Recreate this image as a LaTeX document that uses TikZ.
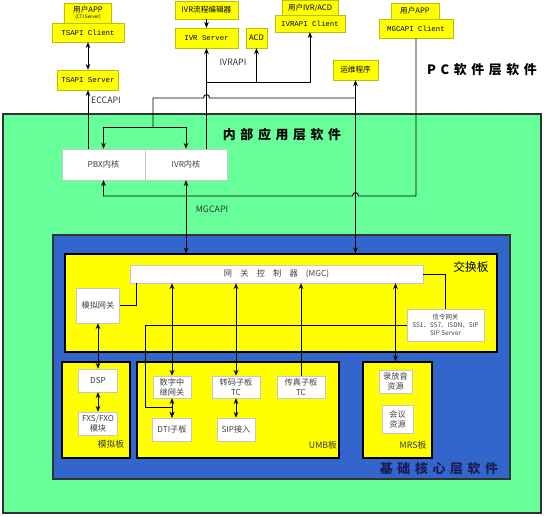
\documentclass[tikz,border=0pt]{standalone}
\usepackage{fontspec}
\usetikzlibrary{arrows.meta}
\setmainfont{Noto Sans CJK SC}
\setmonofont{Liberation Mono}
\newfontfamily\bigfont[LetterSpace=36]{Noto Sans CJK SC}

\definecolor{bggreen}{RGB}{102,255,153}
\definecolor{coreblue}{RGB}{51,102,204}
\definecolor{boardyel}{RGB}{255,255,0}
\definecolor{pcedge}{RGB}{190,190,0}
\definecolor{navy}{RGB}{25,30,85}

\begin{document}
\begin{tikzpicture}[x=0.03cm, y=-0.03cm, >={Stealth[length=5pt,width=4pt]},
    sz/.style 2 args={minimum width=#1*0.03cm, minimum height=#2*0.03cm},
    pcbox/.style={draw=pcedge, fill=boardyel, inner sep=0pt, align=center,
        font=\fontsize{6.5}{7.5}\selectfont},
    mono/.style={font=\fontsize{6.3}{7.5}\selectfont\ttfamily},
    wbox/.style={draw=gray!45, fill=white, inner sep=0pt, align=center,
        text=black!75, font=\fontsize{7}{8.5}\selectfont},
    board/.style={draw=black, line width=1.2pt, fill=boardyel, inner sep=0pt},
    layer/.style={draw=black!80, line width=1pt, inner sep=0pt},
    biglbl/.style={font=\bigfont\bfseries\fontsize{11}{13}\selectfont},
    lbl/.style={font=\fontsize{7.5}{9}\selectfont, text=black!80},
    link/.style={line width=0.8pt}]
    \useasboundingbox (0,0) rectangle (546,517);

    % 三层软件的底色
    \node[layer, fill=bggreen, sz={538}{399}] (applayer) at (272,313.5) {};
    \node[layer, fill=coreblue, sz={457}{244}] (corelayer) at (281.5,357) {};

    % 各块板
    \node[board, sz={432}{98}] (swb) at (281,303) {};
    \node[board, sz={68}{96}] (anb) at (96,410) {};
    \node[board, sz={202}{96}] (umb) at (238,410) {};
    \node[board, sz={69}{96}] (mrs) at (397.5,410) {};

    % 层的名字
    \node[biglbl] (pcname) at (482,70) {PC软件层软件};
    \node[biglbl] (appname) at (282,135) {内部应用层软件};
    \node[biglbl, text=navy] (corename) at (439,469) {基础核心层软件};
    \node[font=\fontsize{10}{12}\selectfont] (swbname) at (471,267) {交换板};
    \node[lbl] (anbname) at (111,444) {模拟板};
    \node[lbl] (umbname) at (323,445) {UMB板};
    \node[lbl] (mrsname) at (413,445) {MRS板};

    % PC 软件层
    \node[pcbox, sz={47}{20}] (app1) at (88,13)
        {用户APP\\[-2pt]{\fontsize{4}{5}\selectfont (CTI Server)}};
    \node[pcbox, mono, sz={72}{19}] (tsc) at (88,32.5) {TSAPI Client};
    \node[pcbox, mono, sz={61}{20}] (tss) at (88,80) {TSAPI Server};
    \node[pcbox, sz={63}{18}] (ivred) at (206.5,10) {IVR流程编辑器};
    \node[pcbox, mono, sz={63}{20}] (ivrs) at (206.5,38) {IVR Server};
    \node[pcbox, sz={21}{20}] (acd) at (256.5,38) {ACD};
    \node[pcbox, sz={56}{15}] (app2) at (310,8) {用户IVR/ACD};
    \node[pcbox, mono, sz={70}{17}] (ivrc) at (310,23.5) {IVRAPI Client};
    \node[pcbox, sz={48}{16}] (app3) at (415,11) {用户APP};
    \node[pcbox, mono, sz={74}{19}] (mgcc) at (416,28.5) {MGCAPI Client};
    \node[pcbox, sz={45}{20}] (ops) at (355.5,70) {运维程序};

    \node[lbl] (eccapi) at (106,100) {ECCAPI};
    \node[lbl] (ivrapi) at (233,62) {IVRAPI};
    \node[lbl] (mgcapi) at (212,209) {MGCAPI};

    % 内部应用层
    \node[wbox, sz={83}{31}] (pbx) at (103.5,164.5) {PBX内核};
    \node[wbox, sz={82}{31}] (ivr) at (186,164.5) {IVR内核};

    % 交换板上的网关
    \node[wbox, sz={293}{18}] (mgc) at (276.5,274)
        {网\hspace{1em}关\hspace{1em}控\hspace{1em}制\hspace{1em}器\hspace{1em}(MGC)};
    \node[wbox, sz={43}{35}] (ag) at (98,305.5) {模拟网关};
    \node[wbox, sz={77}{32}, font=\fontsize{5.5}{7}\selectfont] (sg) at (445.5,325)
        {信令网关\\SS1、SS7、ISDN、SIP\\SIP Server};

    % 板上的模块
    \node[wbox, sz={39}{23}] (dsp) at (98,380.5) {DSP};
    \node[wbox, sz={39}{23}] (fxs) at (98,423.5) {FXS/FXO\\模块};
    \node[wbox, sz={38}{22}] (dtg) at (172,387) {数字中\\继网关};
    \node[wbox, sz={48}{22}] (tc) at (236,387) {转码子板\\TC};
    \node[wbox, sz={48}{22}] (fax) at (301,387) {传真子板\\TC};
    \node[wbox, sz={39}{23}] (dti) at (172,429.5) {DTI子板};
    \node[wbox, sz={38}{23}] (sip) at (236,429.5) {SIP接入};
    \node[wbox, sz={33}{23}] (rec) at (395.5,381.5) {录放音\\资源};
    \node[wbox, sz={31}{28}] (conf) at (397.5,419) {会议\\资源};

    % 连线的拐点
    \coordinate (ivrj) at (206.5,82);
    \coordinate (opsj) at (153,98);
    \coordinate (kj) at (153,127);
    \coordinate (agj) at (136,283);
    \coordinate (sgj) at (145,407);

    % PC 软件层的连线
    \draw[link,<->] (tsc) -- (tss);
    \draw[link,->] (pbx.north -| tss) -- (tss.south);
    \draw[link,->] (ivred) -- (ivrs);
    \draw[link,->] (ivr.north -| ivrs) -- (ivrs.south);
    \draw[link,->] (ivrj) -| (ivrc.south);
    \draw[link,->] (ivrj -| acd) -- (acd.south);
    \draw[link,<->] (ops.south) -- (ops.south |- swb.north);
    % 跨过 IVR 线时画个小弯
    \draw[link] (opsj -| ops) -- (209.5,98) .. controls (209.5,93.5) and (203.5,93.5) .. (203.5,98)
        -- (opsj) -- (kj);
    \draw[link,->] (kj) -| (pbx.north);
    \draw[link,->] (kj) -| (ivr.north);
    \draw[link,->] (mgcc.south) |- (358.5,196) .. controls (358.5,191.5) and (352.5,191.5) .. (352.5,196)
        -| (pbx.south);
    \draw[link,<->] (ivr.south) -- (ivr.south |- swb.north);

    % 交换板内的连线
    \draw[link] (ag.east) -| (agj);
    \draw[link,<->] (ag) -- (dsp);
    \draw[link,<->] (dsp) -- (fxs);
    \draw[link,<->] (mgc.south -| dtg) -- (dtg.north);
    \draw[link,<->] (dtg) -- (dti);
    \draw[link,<->] (mgc.south -| tc) -- (tc.north);
    \draw[link,<->] (tc) -- (sip);
    \draw[link,<-] (mgc.south -| fax) -- (fax.north);
    \draw[link,<->] (mgc.south -| rec) -- (mrs.north -| rec);
    \draw[link] (sg.north) |- (mgc.east);
    \draw[link,->] (sg.west) -| (sgj) -| (dti.north);
\end{tikzpicture}
\end{document}
